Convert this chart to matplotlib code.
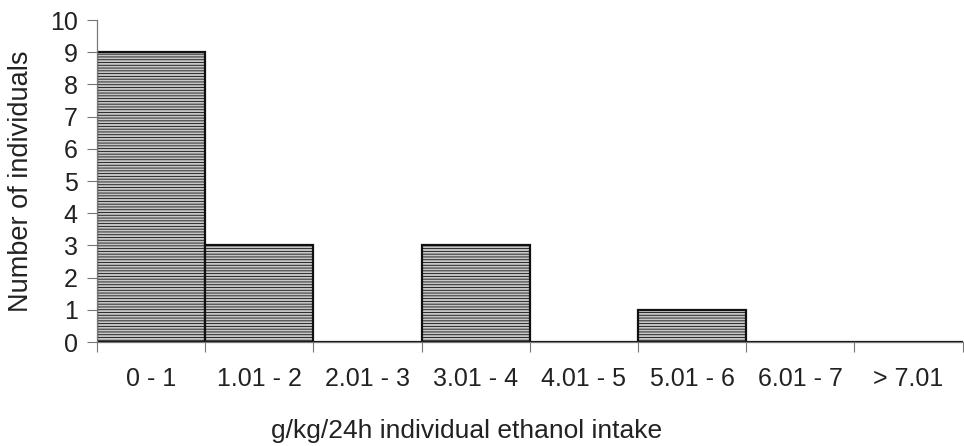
import numpy as np
import matplotlib.pyplot as plt

plt.rcParams['font.family'] = ['Liberation Sans', 'DejaVu Sans']
plt.rcParams['hatch.color'] = '#a6a6a6'
plt.rcParams['hatch.linewidth'] = 0.6

categories = ['0 - 1', '1.01 - 2', '2.01 - 3', '3.01 - 4', '4.01 - 5',
              '5.01 - 6', '6.01 - 7', '> 7.01']
counts = [9, 3, 0, 3, 0, 1, 0, 0]

fig = plt.figure(figsize=(9.64, 4.46), dpi=100)
ax = fig.add_axes([0.1006, 0.233, 0.898, 0.722])

x = np.arange(len(categories))
ax.bar(x, counts, width=1.0, color='#c6c6c6', edgecolor='#111111',
       linewidth=1.6, hatch='------')

ax.set_xlim(-0.5, len(categories) - 0.5)
ax.set_ylim(0, 10)
ax.set_yticks(range(0, 11))

# boundaries get the tick marks, labels sit in the middle of each bin
ax.set_xticks(np.arange(len(categories) + 1) - 0.5)
ax.set_xticklabels([])
ax.set_xticks(x, minor=True)
ax.set_xticklabels(categories, minor=True)
ax.tick_params(axis='x', which='major', direction='out', length=7,
               color='#777777', width=0.8)
ax.tick_params(axis='x', which='minor', length=0, pad=18, labelsize=18,
               labelcolor='#222222')
ax.tick_params(axis='y', direction='out', length=7, color='#777777',
               width=0.8, pad=7, labelsize=18, labelcolor='#222222')

for s in ['top', 'right']:
    ax.spines[s].set_visible(False)
for s in ['left', 'bottom']:
    ax.spines[s].set_color('#777777')
    ax.spines[s].set_linewidth(0.9)

ax.set_ylabel('Number of individuals', fontsize=19.5, color='#222222', labelpad=11)
ax.set_xlabel('g/kg/24h individual ethanol intake', fontsize=19,
              color='#222222', labelpad=20, x=0.427)

fig.savefig('out.png', dpi=100)
